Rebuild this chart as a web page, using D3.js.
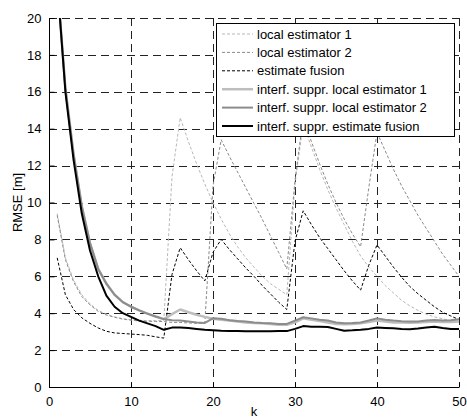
<!DOCTYPE html>
<html><head><meta charset="utf-8">
<script src="https://cdn.jsdelivr.net/npm/d3@7/dist/d3.min.js"></script>
<style>
body{margin:0;background:#fff;}
svg text{font-family:"Liberation Sans",Arial,sans-serif;}
</style></head>
<body><svg id="c" width="467" height="418"></svg>
<script>
const steps = d3.range(1, 51);
const xTicks = [0, 10, 20, 30, 40, 50];
const yTicks = [0, 2, 4, 6, 8, 10, 12, 14, 16, 18, 20];
const seriesNames = ["local estimator 1", "local estimator 2", "estimate fusion",
  "interf. suppr. local estimator 1", "interf. suppr. local estimator 2", "interf. suppr. estimate fusion"];

const localEst1 = [9.4,7.0,5.8,5.0,4.5,4.15,3.95,3.8,3.7,3.65,3.62,3.6,3.6,3.6,
  11.4,14.6,13.3,12.1,11.0,10.0,9.1,8.3,7.6,7.0,6.5,6.0,5.6,5.3,5.0,
  11.0,14.3,13.0,11.8,10.7,9.7,8.8,7.9,7.1,6.5,6.0,5.5,5.1,4.7,4.4,4.15,3.95,3.8,3.7,3.6,3.55];
const localEst2 = [9.3,6.9,5.7,4.9,4.45,4.1,3.9,3.78,3.68,3.62,3.58,3.56,3.55,3.55,3.5,3.5,3.47,3.45,3.45,
  10.9,13.4,12.5,11.65,10.8,9.95,9.1,8.2,7.3,6.4,
  11.2,14.6,13.3,12.1,11.0,10.0,9.1,8.3,7.6,10.8,13.8,12.8,11.8,10.9,10.1,9.3,8.6,7.9,7.2,6.6,6.0];
const fusion = [7.0,5.0,4.2,3.75,3.45,3.2,3.02,2.93,2.9,2.87,2.84,2.8,2.72,2.65,
  6.1,7.55,6.9,6.3,5.75,7.3,8.0,7.45,6.95,6.45,6.0,5.5,5.05,4.6,4.2,
  7.9,9.55,8.8,8.1,7.5,6.9,6.3,5.75,5.25,6.6,7.7,7.1,6.5,5.95,5.45,5.05,4.7,4.35,4.05,3.85,3.65];
const supprEst1 = [22,16.2,12.6,9.8,7.8,6.4,5.6,5.0,4.6,4.35,4.15,3.98,3.82,3.68,
  3.95,4.2,4.05,3.92,3.8,3.7,3.65,3.6,3.55,3.5,3.47,3.45,3.42,3.38,3.37,
  3.5,3.72,3.65,3.58,3.5,3.42,3.4,3.42,3.45,3.52,3.6,3.55,3.5,3.5,3.48,3.5,3.52,3.55,3.52,3.52,3.55];
const supprEst2 = [22,16.2,12.6,9.8,7.8,6.4,5.6,5.0,4.6,4.35,4.15,3.98,3.82,3.68,
  3.62,3.6,3.55,3.5,3.47,3.72,3.7,3.62,3.58,3.55,3.5,3.47,3.45,3.42,3.42,
  3.6,3.78,3.72,3.65,3.6,3.5,3.45,3.47,3.5,3.6,3.72,3.65,3.6,3.57,3.55,3.55,3.6,3.63,3.6,3.62,3.67];
const supprFusion = [22,16,12.3,9.4,7.4,6.0,4.95,4.35,4.0,3.8,3.6,3.45,3.3,3.1,
  3.22,3.22,3.2,3.15,3.1,3.08,3.05,3.04,3.03,3.02,3.02,3.02,3.02,3.03,3.03,
  3.15,3.3,3.27,3.27,3.25,3.15,3.05,3.07,3.1,3.15,3.22,3.2,3.18,3.15,3.13,3.17,3.22,3.27,3.2,3.15,3.15];

const allSeries = [localEst1, localEst2, fusion, supprEst1, supprEst2, supprFusion];
const styles = [
  {color:"#b8b8b8", width:1, dash:"3,2"},
  {color:"#8a8a8a", width:1, dash:"3,2"},
  {color:"#000", width:1, dash:"3,2"},
  {color:"#bdbdbd", width:2.5, dash:null},
  {color:"#8c8c8c", width:2, dash:null},
  {color:"#000", width:2, dash:null}
];

const L = 49, R = 459, T = 18, B = 387;
const svg = d3.select("#c");
const x = d3.scaleLinear().domain([0, 50]).range([L, R]);
const y = d3.scaleLinear().domain([0, 20]).range([B, T]);

svg.append("rect").attr("x", 0).attr("y", 0).attr("width", 467).attr("height", 418).attr("fill", "#fff");

svg.append("clipPath").attr("id", "clip").append("rect")
  .attr("x", L).attr("y", T).attr("width", R - L).attr("height", B - T);

// grid
const grid = svg.append("g").attr("stroke", "#222").attr("stroke-width", 1).attr("stroke-dasharray", "8,5");
yTicks.filter(v => v > 0).forEach(v => {
  grid.append("line").attr("x1", L).attr("x2", R).attr("y1", Math.round(y(v)) + 0.5).attr("y2", Math.round(y(v)) + 0.5);
});
xTicks.filter(v => v > 0).forEach(v => {
  grid.append("line").attr("y1", T).attr("y2", B).attr("x1", Math.round(x(v)) + 0.5).attr("x2", Math.round(x(v)) + 0.5);
});

// lines
const line = d3.line().x((d, i) => x(steps[i])).y(d => y(d));
const plot = svg.append("g").attr("clip-path", "url(#clip)");
allSeries.forEach((s, i) => {
  const st = styles[i];
  plot.append("path").datum(s).attr("d", line).attr("fill", "none")
    .attr("stroke", st.color).attr("stroke-width", st.width)
    .attr("stroke-dasharray", st.dash).attr("stroke-linejoin", "round");
});

// axes
const xAxis = d3.axisBottom(x).tickValues(xTicks).tickSize(-5).tickPadding(9);
const yAxis = d3.axisLeft(y).tickValues(yTicks).tickSize(-5).tickPadding(8);
const gx = svg.append("g").attr("transform", `translate(0,${B + 0.5})`).call(xAxis);
const gy = svg.append("g").attr("transform", `translate(${L + 0.5},0)`).call(yAxis);
[gx, gy].forEach(g => {
  g.selectAll("path").attr("stroke", "#000");
  g.selectAll("line").attr("stroke", "#000");
  g.selectAll("text").attr("font-size", 13).attr("fill", "#000");
});
gx.select(".domain").attr("d", `M${L},0H${R}`);
gy.select(".domain").attr("d", `M0,${T}V${B}`);

// axis labels
svg.append("text").attr("x", (L + R) / 2).attr("y", 416).attr("text-anchor", "middle").attr("font-size", 13).text("k");
svg.append("text").attr("transform", `translate(22,${(T + B) / 2}) rotate(-90)`).attr("text-anchor", "middle")
  .attr("font-size", 13).text("RMSE [m]");

// legend
const lg = svg.append("g");
lg.append("rect").attr("x", 216.5).attr("y", 23.5).attr("width", 238).attr("height", 113)
  .attr("fill", "#fff").attr("stroke", "#000").attr("stroke-width", 1);
seriesNames.forEach((n, i) => {
  const cy = 34 + i * 18.4;
  const st = styles[i];
  lg.append("line").attr("x1", 222).attr("x2", 253).attr("y1", cy).attr("y2", cy)
    .attr("stroke", st.color).attr("stroke-width", st.width).attr("stroke-dasharray", st.dash);
  lg.append("text").attr("x", 257).attr("y", cy).attr("dy", "0.35em").attr("font-size", 13).text(n);
});
</script></body></html>
